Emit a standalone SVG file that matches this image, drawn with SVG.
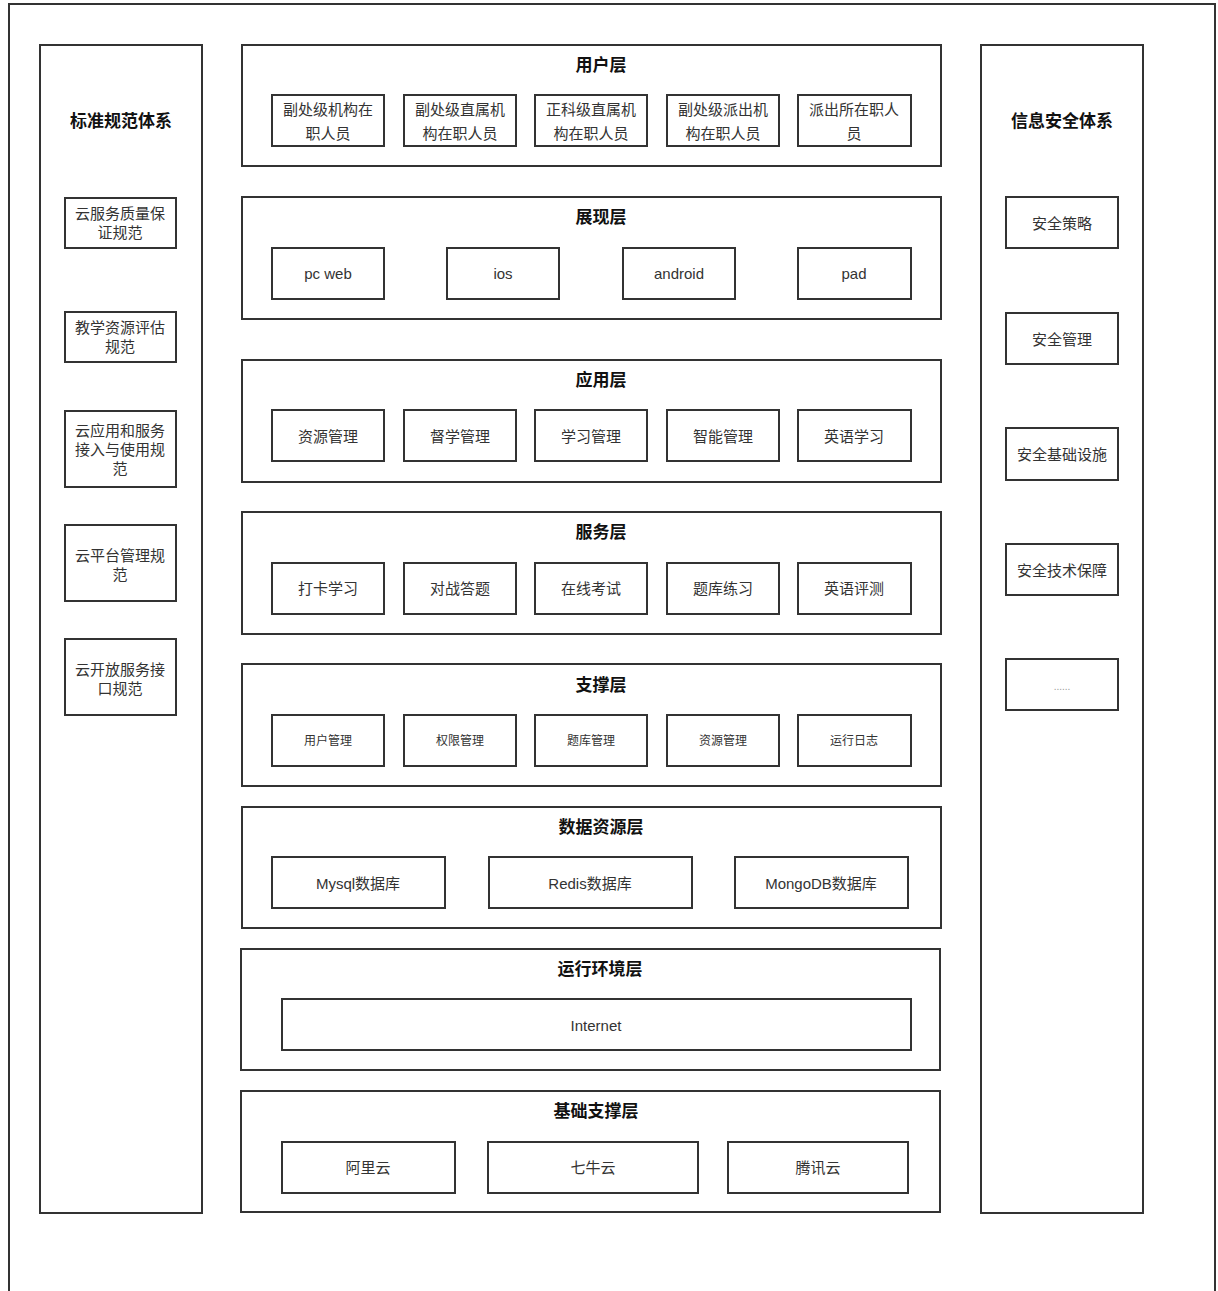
<svg xmlns="http://www.w3.org/2000/svg" width="1218" height="1291" viewBox="0 0 1218 1291">
<style>
rect{fill:#fff;stroke:#333;stroke-width:2}
text{font-family:"Liberation Sans","Noto Sans CJK SC",sans-serif;fill:#333;text-anchor:middle;dominant-baseline:central}
.t{font-size:17px;font-weight:bold;fill:#111}
.b{font-size:15px}
.s{font-size:12px}
.d{font-size:10px;fill:#999}
.frame{fill:none;stroke:#333;stroke-width:2}
</style>
<rect width="1218" height="1291" style="stroke:none"/>
<path class="frame" d="M9,1291 V4 H1215 V1291"/>
<g id="std">
<rect x="40" y="45" width="162" height="1168"/>
<text class="t" x="121" y="121">标准规范体系</text>
<rect x="65" y="198" width="111" height="50"/><text class="b" x="120" y="213">云服务质量保</text><text class="b" x="120" y="232">证规范</text>
<rect x="65" y="312" width="111" height="50"/><text class="b" x="120" y="327">教学资源评估</text><text class="b" x="120" y="346">规范</text>
<rect x="65" y="411" width="111" height="76"/><text class="b" x="120" y="430">云应用和服务</text><text class="b" x="120" y="449">接入与使用规</text><text class="b" x="120" y="468">范</text>
<rect x="65" y="525" width="111" height="76"/><text class="b" x="120" y="555">云平台管理规</text><text class="b" x="120" y="574">范</text>
<rect x="65" y="639" width="111" height="76"/><text class="b" x="120" y="669">云开放服务接</text><text class="b" x="120" y="688">口规范</text>
</g>
<g id="sec">
<rect x="981" y="45" width="162" height="1168"/>
<text class="t" x="1062" y="121">信息安全体系</text>
<rect x="1006" y="197" width="112" height="51"/><text class="b" x="1062" y="223">安全策略</text>
<rect x="1006" y="313" width="112" height="51"/><text class="b" x="1062" y="339">安全管理</text>
<rect x="1006" y="428" width="112" height="52"/><text class="b" x="1062" y="454">安全基础设施</text>
<rect x="1006" y="544" width="112" height="51"/><text class="b" x="1062" y="570">安全技术保障</text>
<rect x="1006" y="659" width="112" height="51"/><text class="d" x="1062" y="686">......</text>
</g>
<g id="user">
<rect x="242" y="45" width="699" height="121"/>
<text class="t" x="601" y="65">用户层</text>
<rect x="272" y="95" width="112" height="51"/><text class="b" x="328" y="109">副处级机构在</text><text class="b" x="328" y="133">职人员</text>
<rect x="404" y="95" width="112" height="51"/><text class="b" x="460" y="109">副处级直属机</text><text class="b" x="460" y="133">构在职人员</text>
<rect x="535" y="95" width="112" height="51"/><text class="b" x="591" y="109">正科级直属机</text><text class="b" x="591" y="133">构在职人员</text>
<rect x="667" y="95" width="112" height="51"/><text class="b" x="723" y="109">副处级派出机</text><text class="b" x="723" y="133">构在职人员</text>
<rect x="798" y="95" width="113" height="51"/><text class="b" x="854" y="109">派出所在职人</text><text class="b" x="854" y="133">员</text>
</g>
<g id="view">
<rect x="242" y="197" width="699" height="122"/>
<text class="t" x="601" y="217">展现层</text>
<rect x="272" y="248" width="112" height="51"/><text class="b" x="328" y="273">pc web</text>
<rect x="447" y="248" width="112" height="51"/><text class="b" x="503" y="273">ios</text>
<rect x="623" y="248" width="112" height="51"/><text class="b" x="679" y="273">android</text>
<rect x="798" y="248" width="113" height="51"/><text class="b" x="854" y="273">pad</text>
</g>
<g id="app">
<rect x="242" y="360" width="699" height="122"/>
<text class="t" x="601" y="380">应用层</text>
<rect x="272" y="410" width="112" height="51"/><text class="b" x="328" y="436">资源管理</text>
<rect x="404" y="410" width="112" height="51"/><text class="b" x="460" y="436">督学管理</text>
<rect x="535" y="410" width="112" height="51"/><text class="b" x="591" y="436">学习管理</text>
<rect x="667" y="410" width="112" height="51"/><text class="b" x="723" y="436">智能管理</text>
<rect x="798" y="410" width="113" height="51"/><text class="b" x="854" y="436">英语学习</text>
</g>
<g id="service">
<rect x="242" y="512" width="699" height="122"/>
<text class="t" x="601" y="532">服务层</text>
<rect x="272" y="563" width="112" height="51"/><text class="b" x="328" y="588">打卡学习</text>
<rect x="404" y="563" width="112" height="51"/><text class="b" x="460" y="588">对战答题</text>
<rect x="535" y="563" width="112" height="51"/><text class="b" x="591" y="588">在线考试</text>
<rect x="667" y="563" width="112" height="51"/><text class="b" x="723" y="588">题库练习</text>
<rect x="798" y="563" width="113" height="51"/><text class="b" x="854" y="588">英语评测</text>
</g>
<g id="support">
<rect x="242" y="664" width="699" height="122"/>
<text class="t" x="601" y="685">支撑层</text>
<rect x="272" y="715" width="112" height="51"/><text class="s" x="328" y="741">用户管理</text>
<rect x="404" y="715" width="112" height="51"/><text class="s" x="460" y="741">权限管理</text>
<rect x="535" y="715" width="112" height="51"/><text class="s" x="591" y="741">题库管理</text>
<rect x="667" y="715" width="112" height="51"/><text class="s" x="723" y="741">资源管理</text>
<rect x="798" y="715" width="113" height="51"/><text class="s" x="854" y="741">运行日志</text>
</g>
<g id="data">
<rect x="242" y="807" width="699" height="121"/>
<text class="t" x="601" y="827">数据资源层</text>
<rect x="272" y="857" width="173" height="51"/><text class="b" x="358" y="883">Mysql数据库</text>
<rect x="489" y="857" width="203" height="51"/><text class="b" x="590" y="883">Redis数据库</text>
<rect x="735" y="857" width="173" height="51"/><text class="b" x="821" y="883">MongoDB数据库</text>
</g>
<g id="runtime">
<rect x="241" y="949" width="699" height="121"/>
<text class="t" x="600" y="969">运行环境层</text>
<rect x="282" y="999" width="629" height="51"/><text class="b" x="596" y="1025">Internet</text>
</g>
<g id="base">
<rect x="241" y="1091" width="699" height="121"/>
<text class="t" x="596" y="1111">基础支撑层</text>
<rect x="282" y="1142" width="173" height="51"/><text class="b" x="368" y="1167">阿里云</text>
<rect x="488" y="1142" width="210" height="51"/><text class="b" x="593" y="1167">七牛云</text>
<rect x="728" y="1142" width="180" height="51"/><text class="b" x="818" y="1167">腾讯云</text>
</g>
<g id="connectors"/>
</svg>
